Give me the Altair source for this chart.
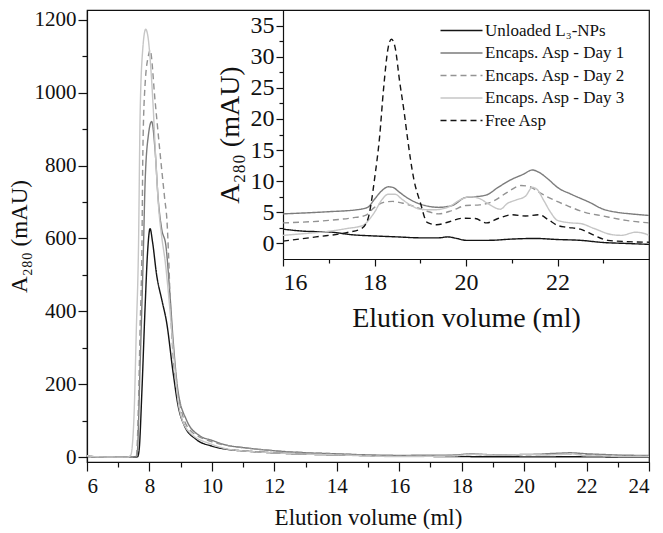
import altair as alt
import pandas as pd

FONT = "Liberation Serif"

series = ["Unloaded L₃-NPs", "Encaps. Asp - Day 1", "Encaps. Asp - Day 2",
          "Encaps. Asp - Day 3", "Free Asp"]
colors = ["#141414", "#7c7c7c", "#939393", "#c6c6c6", "#141414"]
dashes = [[1, 0], [1, 0], [6, 4], [1, 0], [6, 4]]

# ---- main chromatogram, 6-15 ml ----
unl_x = [6.0, 6.3, 7.0, 7.5, 7.62, 7.67, 7.76, 7.86, 7.94, 8.02, 8.1, 8.23, 8.4, 8.55,
         8.76, 8.92, 9.12, 9.49, 10.0, 10.5, 11.0, 11.9, 13.0, 14.0, 15.0]
unl_y = [2, 0.5, 0, 0, 1, 20, 184, 410, 562, 627, 590, 500, 430, 370,
         230, 140, 86, 49, 30, 21, 17, 12, 8, 6, 4]

d1_x = [6.0, 6.3, 7.0, 7.5, 7.6, 7.7, 7.81, 7.86, 7.97, 8.07, 8.18, 8.28, 8.39, 8.53,
        8.65, 8.76, 8.91, 9.18, 9.6, 10.0, 10.5, 11.0, 11.9, 13.0, 14.0, 15.0]
d1_y = [2, 1, 0, 0, 3, 250, 581, 751, 886, 921, 843, 708, 627, 578,
        454, 319, 184, 103, 59, 46, 32, 26, 18, 12, 9, 6]

d2_x = [6.0, 6.3, 7.0, 7.5, 7.58, 7.65, 7.7, 7.76, 7.79, 7.86, 7.97, 8.02, 8.18, 8.33,
        8.49, 8.56, 8.61, 8.66, 8.76, 8.97, 9.28, 10.0, 10.5, 11.0, 11.9, 13.0, 14.0, 15.0]
d2_y = [3, 1, 0, 0, 2, 150, 350, 581, 843, 1022, 1103, 1117, 978, 843,
        708, 650, 560, 440, 275, 149, 76, 42, 32, 26, 18, 12, 9, 5]

d3_x = [6.0, 6.3, 7.0, 7.3, 7.4, 7.5, 7.58, 7.65, 7.7, 7.78, 7.88, 7.95, 8.05, 8.12,
        8.2, 8.3, 8.4, 8.5, 8.65, 8.8, 8.96, 9.28, 10.0, 10.5, 11.0, 11.9, 13.0, 14.0, 15.0]
d3_y = [4, 1, 0, 0, 5, 100, 350, 581, 932, 1113, 1174, 1155, 1060, 960,
        820, 680, 600, 540, 410, 257, 130, 68, 35, 22, 17, 12, 8, 6, 3]

# ---- 16-24 ml (inset, also the tail of the main chart) ----
iu_x = [16, 16.5, 17, 17.5, 18, 18.5, 19, 19.4, 19.6, 19.8, 20, 20.5, 21, 21.5, 22,
        22.5, 23, 23.5, 24]
iu_y = [2.3, 1.95, 1.85, 1.4, 1.2, 1.05, 0.9, 0.9, 1.05, 0.8, 0.5, 0.5, 0.7, 0.8, 0.63,
        0.5, 0.15, 0.0, -0.15]

i1_x = [16, 17, 17.6, 17.85, 18.0, 18.15, 18.3, 18.4, 18.55, 18.7, 18.9, 19.1, 19.4,
        19.7, 20.0, 20.2, 20.45, 20.7, 21.0, 21.25, 21.45, 21.6, 21.8, 22.0, 22.3, 22.7,
        23.0, 23.3, 23.6, 24]
i1_y = [4.75, 5.1, 5.4, 5.8, 7.1, 8.4, 9.1, 9.0, 8.2, 7.4, 6.6, 6.1, 5.8,
        6.1, 7.4, 7.5, 7.8, 9.0, 10.3, 11.1, 11.8, 11.4, 10.3, 9.0, 7.9, 6.6,
        5.5, 5.0, 4.75, 4.5]

i2_x = [16, 17, 17.5, 17.8, 18.0, 18.2, 18.4, 18.6, 18.8, 19.1, 19.4, 19.7, 20.0, 20.3,
        20.6, 20.9, 21.2, 21.4, 21.6, 21.8, 22.2, 22.6, 23.0, 23.5, 24]
i2_y = [3.3, 3.7, 4.1, 4.5, 5.8, 6.6, 6.75, 6.5, 6.1, 5.3, 4.75, 5.3, 6.1, 6.2,
        6.8, 8.2, 9.3, 9.1, 8.2, 7.4, 6.1, 5.0, 4.4, 3.7, 3.3]

i3_x = [16, 16.5, 17.0, 17.4, 17.75, 17.9, 18.0, 18.15, 18.3, 18.45, 18.6, 18.8, 19.0,
        19.3, 19.6, 19.9, 20.1, 20.3, 20.5, 20.75, 20.9, 21.1, 21.3, 21.45, 21.55, 21.7,
        21.85, 22.0, 22.3, 22.5, 22.8, 23.2, 23.4, 23.7, 23.9, 24]
i3_y = [1.3, 1.6, 1.95, 2.4, 2.9, 4.0, 5.0, 6.9, 7.9, 7.9, 7.1, 6.1, 5.5,
        5.4, 5.8, 7.1, 7.5, 7.2, 6.3, 5.5, 6.4, 7.0, 7.6, 9.0, 8.7, 6.9,
        5.0, 3.7, 3.3, 3.2, 2.4, 1.4, 1.3, 1.8, 1.6, 1.3]

fa_x = [16, 16.72, 17.43, 17.72, 17.86, 17.93, 18.0, 18.11, 18.2, 18.3, 18.37, 18.45,
        18.55, 18.65, 18.72, 18.86, 19.0, 19.15, 19.36, 19.6, 19.93, 20.2, 20.45, 20.7,
        21.0, 21.3, 21.6, 21.8, 22.0, 22.2, 22.5, 22.8, 23.1, 23.5, 24]
fa_y = [0.37, 1.05, 1.8, 2.4, 4.0, 6.6, 10.3, 17.0, 25.0, 31.5, 32.8, 31.5,
        26.0, 21.0, 17.0, 10.3, 6.6, 3.4, 3.0, 3.4, 4.05, 4.0, 3.3, 4.0,
        4.6, 4.4, 4.6, 3.8, 2.9, 2.6, 2.3, 1.3, 0.5, 0.3, 0.2]

main_x_ticks = list(range(6, 25))
main_y_ticks = list(range(0, 1201, 100))
ins_x_ticks = list(range(16, 24))
ins_y_ticks = [v * 2.5 for v in range(0, 15)]


def frame(name, xs, ys):
    return pd.DataFrame({"series": name, "x": xs, "y": ys, "o": range(len(xs))})


main_df = pd.concat([
    frame(series[0], unl_x + iu_x, unl_y + iu_y),
    frame(series[1], d1_x + i1_x, d1_y + i1_y),
    frame(series[2], d2_x + i2_x, d2_y + i2_y),
    frame(series[3], d3_x + i3_x, d3_y + i3_y),
])
ins_df = pd.concat([
    frame(series[0], iu_x, iu_y),
    frame(series[1], i1_x, i1_y),
    frame(series[2], i2_x, i2_y),
    frame(series[3], i3_x, i3_y),
    frame(series[4], fa_x, fa_y),
])

W, H = 562, 452
INS_LEFT = 196
INS_BOTTOM = 249

legend = alt.Legend(orient="none", legendX=363, legendY=9, title=None,
                    labelFont=FONT, labelFontSize=17, labelColor="#111",
                    symbolType="M-2,0H2", symbolSize=441, symbolStrokeWidth=1.5,
                    rowPadding=2.5, labelOffset=12, labelLimit=400)
color = alt.Color("series:N", scale=alt.Scale(domain=series, range=colors), legend=legend)
dash = alt.StrokeDash("series:N", scale=alt.Scale(domain=series, range=dashes), legend=legend)


def cond(test, big, small):
    return {"condition": {"test": test, "value": big}, "value": small}


axis_common = dict(labelFont=FONT, titleFont=FONT, labelColor="#111", titleColor="#111",
                   domainColor="#111", tickColor="#111", domainWidth=1.2, tickWidth=1.2,
                   grid=False, titleFontWeight="normal")

main = alt.Chart(main_df).mark_line(strokeWidth=1.4, interpolate="monotone").encode(
    x=alt.X("x:Q", scale=alt.Scale(domain=[6, 24], nice=False, zero=False),
            axis=alt.Axis(title="Elution volume (ml)", values=main_x_ticks,
                          labelExpr="datum.value % 2 === 0 ? datum.label : ''",
                          tickSize=cond("datum.value % 2 === 0", 9, 5),
                          labelFontSize=21, titleFontSize=23, labelPadding=4,
                          titlePadding=10, **axis_common)),
    y=alt.Y("y:Q", scale=alt.Scale(domain=[-13.5, 1227], nice=False, zero=False),
            axis=alt.Axis(title="A₂₈₀ (mAU)", values=main_y_ticks, format="d",
                          labelExpr="datum.value % 200 === 0 ? datum.label : ''",
                          tickSize=cond("datum.value % 200 === 0", 9, 5),
                          labelFontSize=21, titleFontSize=23, labelPadding=2,
                          titlePadding=3, **axis_common)),
    color=color, strokeDash=dash, order="o:Q", detail="series:N",
)

inset = alt.Chart(ins_df).mark_line(strokeWidth=1.4, interpolate="monotone").encode(
    x=alt.X("x:Q", scale=alt.Scale(domain=[16, 24], range=[INS_LEFT, W], nice=False, zero=False),
            axis=alt.Axis(title="Elution volume (ml)", values=ins_x_ticks, orient="bottom",
                          offset=-(H - INS_BOTTOM),
                          labelExpr="datum.value % 2 === 0 ? datum.label : ''",
                          tickSize=cond("datum.value % 2 === 0", 7, 4),
                          labelFontSize=24, titleFontSize=28, labelPadding=4,
                          titlePadding=10, **axis_common)),
    y=alt.Y("y:Q", scale=alt.Scale(domain=[-2.5, 37.5], range=[INS_BOTTOM, 0], nice=False, zero=False),
            axis=alt.Axis(title="A₂₈₀ (mAU)", values=ins_y_ticks, orient="left",
                          offset=-INS_LEFT,
                          labelExpr="datum.value % 5 === 0 ? datum.label : ''",
                          tickSize=cond("datum.value % 5 === 0", 7, 4),
                          labelFontSize=24, titleFontSize=28, labelPadding=2,
                          titlePadding=6, **axis_common)),
    color=color, strokeDash=dash, order="o:Q", detail="series:N",
)

chart = alt.layer(main, inset).resolve_scale(
    x="independent", y="independent", color="shared", strokeDash="shared"
).resolve_axis(x="independent", y="independent").properties(
    width=W, height=H, background="white",
    padding={"left": 0, "top": 0, "right": 0, "bottom": 0},
).configure_view(stroke="#111", strokeWidth=1.2).configure_axis(
    labelFont=FONT, titleFont=FONT
).configure_legend(labelFont=FONT)

chart.save("out.html", embed_options={"renderer": "svg", "actions": False})
